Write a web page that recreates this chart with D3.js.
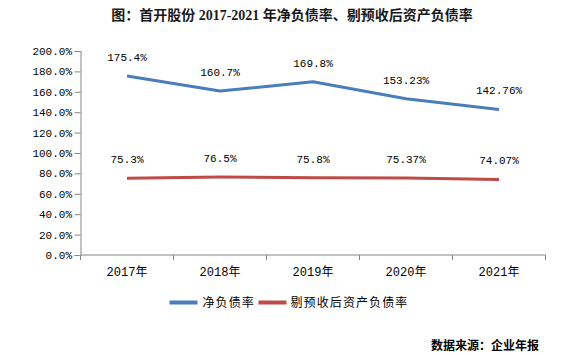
<!DOCTYPE html>
<html><head><meta charset="utf-8">
<script src="https://cdn.jsdelivr.net/npm/d3@7"></script>
<style>
body{margin:0;background:#fff;}
svg{display:block;}
</style></head>
<body>
<svg id="chart" width="569" height="356"></svg>
<script>
const title = "图：首开股份 2017-2021 年净负债率、剔预收后资产负债率";
const source = "数据来源：企业年报";
const categories = ["2017年","2018年","2019年","2020年","2021年"];
const netDebtRatio = [175.4, 160.7, 169.8, 153.23, 142.76];
const adjDebtRatio = [75.3, 76.5, 75.8, 75.37, 74.07];
const seriesNames = ["净负债率","剔预收后资产负债率"];
const seriesColors = ["#4a7ebb","#be4b48"];
const yTicks = [0,20,40,60,80,100,120,140,160,180,200];

const svg = d3.select("#chart");
const monoFont = "'Liberation Mono','Noto Sans CJK SC',monospace";
const cjkFont = "'Noto Sans CJK SC',sans-serif";
const titleFont = "'Liberation Serif','Noto Sans CJK SC',serif";

const x = d3.scaleBand().domain(categories).range([80.5,545.5]);
const y = d3.scaleLinear().domain([0,200]).range([255,51]);

// title
svg.append("text").attr("x",292).attr("y",20).attr("text-anchor","middle")
  .attr("font-family",titleFont).attr("font-weight","bold").attr("font-size",14)
  .attr("fill","#1a1a1a").text(title);

// y axis
const yAxis = svg.append("g").attr("transform","translate(80.5,0)")
  .call(d3.axisLeft(y).tickValues(yTicks).tickSize(6).tickPadding(2.5)
    .tickFormat(d=>d3.format(".1f")(d)+"%"));
yAxis.selectAll("path,line").attr("stroke","#868686");
yAxis.selectAll("text").attr("font-family",monoFont).attr("font-size",11).attr("fill","#000");

// x axis
const xAxis = svg.append("g").attr("transform","translate(0,255)")
  .call(d3.axisBottom(x).tickSize(0).tickPadding(12));
xAxis.select("path").attr("stroke","#868686").attr("d","M80.5,0H545.5");
xAxis.selectAll("text").attr("font-family",monoFont).attr("font-size",12).attr("fill","#000");
const bounds = categories.map(c=>x(c)).concat([x.range()[1]]);
xAxis.selectAll("line.bnd").data(bounds).enter().append("line").attr("class","bnd")
  .attr("x1",d=>d).attr("x2",d=>d).attr("y1",0).attr("y2",5).attr("stroke","#868686");

// lines
const cx = c => x(c)+x.bandwidth()/2;
const line = d3.line().x((d,i)=>cx(categories[i])).y(d=>y(d));
[netDebtRatio, adjDebtRatio].forEach((vals,si)=>{
  svg.append("path").datum(vals).attr("d",line).attr("fill","none")
    .attr("stroke",seriesColors[si]).attr("stroke-width",3).attr("stroke-linejoin","round");
  svg.selectAll(null).data(vals).enter().append("text")
    .attr("x",(d,i)=>cx(categories[i])).attr("y",d=>y(d)-15)
    .attr("text-anchor","middle").attr("font-family",monoFont).attr("font-size",11)
    .attr("fill","#000").text(d=>d+"%");
});

// legend
const legendItems = [{x:169.5,w:28,tx:202.5},{x:258.5,w:28,tx:290.5}];
legendItems.forEach((it,i)=>{
  svg.append("line").attr("x1",it.x).attr("x2",it.x+it.w).attr("y1",302.5).attr("y2",302.5)
    .attr("stroke",seriesColors[i]).attr("stroke-width",4);
  svg.append("text").attr("x",it.tx).attr("y",307).attr("font-family",cjkFont)
    .attr("font-size",12).attr("letter-spacing",1.1).attr("fill","#000").text(seriesNames[i]);
});

// source
svg.append("text").attr("x",539).attr("y",350).attr("text-anchor","end")
  .attr("font-family",cjkFont).attr("font-weight","bold").attr("font-size",12)
  .attr("fill","#000").text(source);
</script>
</body></html>
